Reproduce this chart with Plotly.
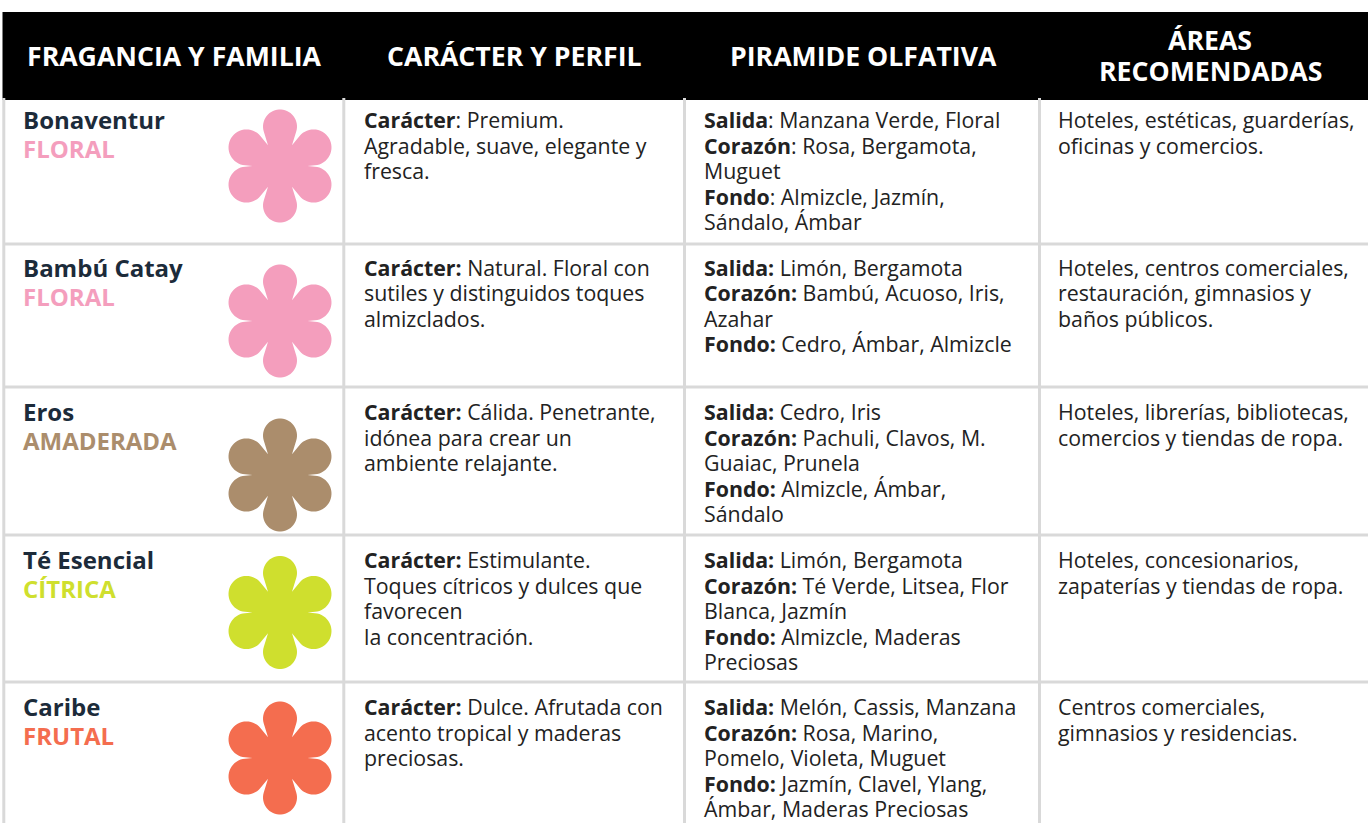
import numpy as np
import plotly.graph_objects as go

W, H = 1368, 823
FONT = "Open Sans"
DARK = "#1c2b3a"
INK = "#222222"
GRID = "#d9d9d9"

headers = [["FRAGANCIA Y FAMILIA"], ["CARÁCTER Y PERFIL"], ["PIRAMIDE OLFATIVA"], ["ÁREAS", "RECOMENDADAS"]]
names = ["Bonaventur", "Bambú Catay", "Eros", "Té Esencial", "Caribe"]
families = ["FLORAL", "FLORAL", "AMADERADA", "CÍTRICA", "FRUTAL"]
family_colors = ["#f49ebd", "#f49ebd", "#ab8d6c", "#cfdf2e", "#f46d4f"]

profiles = [
    ["<b>Carácter</b>: Premium.", "Agradable, suave, elegante y", "fresca."],
    ["<b>Carácter:</b> Natural. Floral con", "sutiles y distinguidos toques", "almizclados."],
    ["<b>Carácter:</b> Cálida. Penetrante,", "idónea para crear un", "ambiente relajante."],
    ["<b>Carácter:</b> Estimulante.", "Toques cítricos y dulces que", "favorecen", "la concentración."],
    ["<b>Carácter:</b> Dulce. Afrutada con", "acento tropical y maderas", "preciosas."],
]
pyramids = [
    ["<b>Salida</b>: Manzana Verde, Floral", "<b>Corazón</b>: Rosa, Bergamota,", "Muguet", "<b>Fondo</b>: Almizcle, Jazmín,", "Sándalo, Ámbar"],
    ["<b>Salida:</b> Limón, Bergamota", "<b>Corazón:</b> Bambú, Acuoso, Iris,", "Azahar", "<b>Fondo:</b> Cedro, Ámbar, Almizcle"],
    ["<b>Salida:</b> Cedro, Iris", "<b>Corazón:</b> Pachuli, Clavos, M.", "Guaiac, Prunela", "<b>Fondo:</b> Almizcle, Ámbar,", "Sándalo"],
    ["<b>Salida:</b> Limón, Bergamota", "<b>Corazón:</b> Té Verde, Litsea, Flor", "Blanca, Jazmín", "<b>Fondo:</b> Almizcle, Maderas", "Preciosas"],
    ["<b>Salida:</b> Melón, Cassis, Manzana", "<b>Corazón:</b> Rosa, Marino,", "Pomelo, Violeta, Muguet", "<b>Fondo:</b> Jazmín, Clavel, Ylang,", "Ámbar, Maderas Preciosas"],
]
areas = [
    ["Hoteles, estéticas, guarderías,", "oficinas y comercios."],
    ["Hoteles, centros comerciales,", "restauración, gimnasios y", "baños públicos."],
    ["Hoteles, librerías, bibliotecas,", "comercios y tiendas de ropa."],
    ["Hoteles, concesionarios,", "zapaterías y tiendas de ropa."],
    ["Centros comerciales,", "gimnasios y residencias."],
]

# layout of the table, in page pixels
header_top, header_bottom = 12, 100
row_lines = [244, 387, 535, 682]
first_line = [119.5, 267, 411.5, 559.5, 706.5]
flower_cy = [166, 321, 475, 612.5, 758]
col_lines = [3.8, 343.8, 684.5, 1039.5]
col_text = [22, 362.5, 703, 1057]
header_centers = [174.5, 514, 863, 1210]
flower_cx = 280
LH = 25.6
BODY = 21.33
NAME = 24
HEAD = 26.67


def flower_path(cx, cy):
    """Six round petals, the side ones a little larger, joined at sharp notches."""
    head_angle = np.radians(np.array([-90, -29, 29, 90, 151, 209]))
    head_dist = [39.5, 38.3, 38.3, 39.5, 38.3, 38.3]
    head_r = [17.0, 18.0, 18.0, 17.0, 18.0, 18.0]
    notch_angle = np.radians(np.array([-120, -60, 0, 60, 120, 180]))
    notch_dist = [24.0, 24.0, 27.5, 24.0, 24.0, 27.5]
    pts = []
    for k in range(6):
        hx = cx + head_dist[k] * np.cos(head_angle[k])
        hy = cy + head_dist[k] * np.sin(head_angle[k])
        r = head_r[k]
        a0, d0 = notch_angle[k], notch_dist[k]
        a1, d1 = notch_angle[(k + 1) % 6], notch_dist[(k + 1) % 6]
        n0 = (cx + d0 * np.cos(a0), cy + d0 * np.sin(a0))
        n1 = (cx + d1 * np.cos(a1), cy + d1 * np.sin(a1))
        p0 = np.arctan2(n0[1] - hy, n0[0] - hx)
        p1 = np.arctan2(n1[1] - hy, n1[0] - hx)
        b0 = np.arccos(min(1, r / np.hypot(n0[0] - hx, n0[1] - hy)))
        b1 = np.arccos(min(1, r / np.hypot(n1[0] - hx, n1[1] - hy)))
        st, en = p0 + b0, p1 - b1
        while en < st:
            en += 2 * np.pi
        pts.append(("L" if k else "M") + f"{n0[0]:.2f},{n0[1]:.2f}")
        for t in np.linspace(st, en, 32):
            pts.append(f"L{hx + r*np.cos(t):.2f},{hy + r*np.sin(t):.2f}")
    return " ".join(pts) + " Z"


def label(x, y, text, size=BODY, color=INK, anchor="left"):
    return dict(x=x, y=y, xref="x", yref="y", text=text, showarrow=False, xanchor=anchor, yanchor="middle",
                align=anchor, borderpad=0, font=dict(family=FONT, size=size, color=color))


shapes, annots = [], []
shapes.append(dict(type="rect", x0=2.5, x1=W, y0=header_top, y1=header_bottom, fillcolor="#000000", line_width=0, layer="below"))
for x in col_lines:
    shapes.append(dict(type="line", x0=x, x1=x, y0=98, y1=H, line=dict(color=GRID, width=3), layer="below"))
for y in row_lines:
    shapes.append(dict(type="line", x0=3, x1=W, y0=y, y1=y, line=dict(color=GRID, width=3), layer="below"))

for cx, lines in zip(header_centers, headers):
    ys = [55] if len(lines) == 1 else [39.5, 70.5]
    for y, t in zip(ys, lines):
        annots.append(label(cx, y, f"<b>{t}</b>", size=HEAD, color="#ffffff", anchor="center"))

for i, y0 in enumerate(first_line):
    annots.append(label(col_text[0], y0, f"<b>{names[i]}</b>", size=NAME, color=DARK))
    annots.append(label(col_text[0], y0 + 29, f"<b>{families[i]}</b>", size=NAME, color=family_colors[i]))
    shapes.append(dict(type="path", path=flower_path(flower_cx, flower_cy[i]), fillcolor=family_colors[i], line_width=0))
    for c, col in enumerate([profiles, pyramids, areas]):
        for k, t in enumerate(col[i]):
            annots.append(label(col_text[c + 1], y0 + k * LH, t))

fig = go.Figure(go.Scatter(x=[0, W], y=[0, H], mode="markers", marker=dict(opacity=0), hoverinfo="skip"))
fig.update_layout(width=W, height=H, margin=dict(l=0, r=0, t=0, b=0), paper_bgcolor="#ffffff", plot_bgcolor="#ffffff",
                  showlegend=False, shapes=shapes, annotations=annots,
                  xaxis=dict(range=[0, W], visible=False, fixedrange=True),
                  yaxis=dict(range=[H, 0], visible=False, fixedrange=True))
fig.write_html("out.html", config=dict(displayModeBar=False),
               post_script="document.body.style.margin='0';document.documentElement.style.overflow='hidden';")
